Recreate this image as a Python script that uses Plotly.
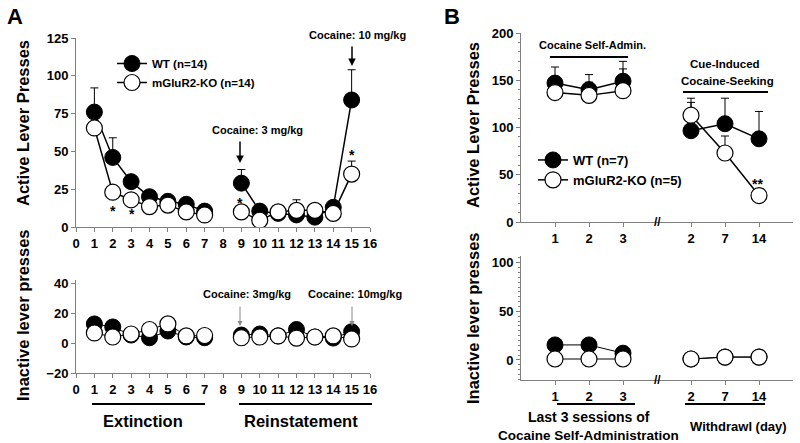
import plotly.graph_objects as go

# ---------------- data ----------------
sessions_A = [1, 2, 3, 4, 5, 6, 7, 8, 9, 10, 11, 12, 13, 14, 15]
wt_active = [76, 46, 30, 20, 17, 15, 10.5, None, 29, 10.5, 9, 8, 6.5, 13, 84]
ko_active = [65.5, 23, 18, 13.5, 14.5, 10, 8, None, 10, 4.5, 10, 11, 11, 9, 35]
wt_active_err = [16, 13, 0, 0, 0, 0, 0, 0, 9, 0, 0, 0, 0, 0, 20]
ko_active_err = [0, 0, 0, 0, 0, 0, 0, 0, 0, 0, 3, 7, 0, 0, 8.6]
wt_inactive = [12.7, 10.7, 5.3, 3.5, 8, 4, 3.5, None, 5.3, 6, 4.7, 9, 4, 3.3, 7.5]
ko_inactive = [6.7, 4, 6, 9, 12.7, 4.7, 5, None, 3.5, 4, 4.7, 3.3, 4, 4.7, 2.7]
wt_inactive_err = [3.5, 0, 0, 0, 0, 0, 0, 0, 0, 0, 0, 0, 0, 0, 0]
ticks_A = list(range(0, 17))

pos_B = [1, 2, 3, None, 5, 6, 7]
tickpos_B = [1, 2, 3, 5, 6, 7]
ticklabels_B = ["1", "2", "3", "2", "7", "14"]
wt_b_active = [147, 140, 149, None, 96.6, 104, 88]
ko_b_active = [137, 134, 139, None, 113, 73, 28]
wt_b_err = [17, 16, 21, 0, 30, 27, 29]
ko_b_err = [0, 14, 23, 0, 18, 18, 0]
wt_b_inactive = [15.5, 15.5, 7, None, 1, 3, 3]
ko_b_inactive = [1, 1, 1, None, 1, 3, 3]

W, H = 800, 443
FONT = "Liberation Sans, Arial, sans-serif"
AXC = "#808080"


def px(x):
    return x / W


def py(y):
    return 1 - y / H


fig = go.Figure()


def add_pair(xs, wt, ko, wt_err, ko_err, xa, ya, legend=None, wt_name="", ko_name="", lw=1.5):
    show = legend is not None
    fig.add_trace(go.Scatter(
        x=xs, y=wt, mode="lines+markers", name=wt_name, showlegend=show,
        legend=legend if show else None,
        line=dict(color="black", width=lw),
        marker=dict(size=16, color="black", line=dict(color="black", width=1)),
        error_y=dict(type="data", array=wt_err, arrayminus=[0] * len(xs), symmetric=False,
                     color="black", thickness=1, width=4) if wt_err is not None else None,
        xaxis=xa, yaxis=ya))
    fig.add_trace(go.Scatter(
        x=xs, y=ko, mode="lines+markers", name=ko_name, showlegend=show,
        legend=legend if show else None,
        line=dict(color="black", width=lw),
        marker=dict(size=16, color="white", line=dict(color="black", width=1.2)),
        error_y=dict(type="data", array=ko_err, arrayminus=[0] * len(xs), symmetric=False,
                     color="black", thickness=1, width=4) if ko_err is not None else None,
        xaxis=xa, yaxis=ya))


add_pair(sessions_A, wt_active, ko_active, wt_active_err, ko_active_err, "x", "y",
         legend="legend", wt_name="WT (n=14)", ko_name="mGluR2-KO (n=14)")
add_pair(sessions_A, wt_inactive, ko_inactive, wt_inactive_err, None, "x2", "y2", lw=1)
add_pair(pos_B, wt_b_active, ko_b_active, wt_b_err, ko_b_err, "x3", "y3",
         legend="legend2", wt_name="WT (n=7)", ko_name="mGluR2-KO (n=5)")
add_pair(pos_B, wt_b_inactive, ko_b_inactive, None, None, "x4", "y4", lw=1)

tickfont = dict(family=FONT, size=13, color="black", weight="bold")
common_ax = dict(showline=True, linecolor=AXC, linewidth=1, ticks="outside", ticklen=4,
                 tickcolor=AXC, showgrid=False, zeroline=False, tickfont=tickfont,
                 automargin=False)

fig.update_layout(
    width=W, height=H, margin=dict(l=0, r=0, t=0, b=0, autoexpand=False),
    paper_bgcolor="white", plot_bgcolor="white",
    font=dict(family=FONT, color="black"),
    xaxis=dict(domain=[px(76), px(370)], range=[0, 16], tickvals=ticks_A, anchor="y", **common_ax),
    yaxis=dict(domain=[py(227), py(38)], range=[0, 125], tickvals=[0, 25, 50, 75, 100, 125],
               anchor="x", **common_ax),
    xaxis2=dict(domain=[px(76), px(370)], range=[0, 16], tickvals=ticks_A, anchor="y2", **common_ax),
    yaxis2=dict(domain=[py(373), py(280)], range=[-20, 42], tickvals=[-20, 0, 20, 40],
                anchor="x2", **common_ax),
    xaxis3=dict(domain=[px(521), px(793)], range=[0, 8], tickvals=tickpos_B, ticktext=ticklabels_B,
                anchor="y3", **common_ax),
    yaxis3=dict(domain=[py(222), py(33)], range=[0, 200], tickvals=[0, 50, 100, 150, 200],
                anchor="x3", minor=dict(ticks="outside", ticklen=2, dtick=10, tickcolor=AXC),
                **common_ax),
    xaxis4=dict(domain=[px(521), px(793)], range=[0, 8], tickvals=tickpos_B, ticktext=ticklabels_B,
                anchor="y4", **common_ax),
    yaxis4=dict(domain=[py(380), py(256)], range=[-20.6, 107], tickvals=[0, 50, 100],
                anchor="x4", minor=dict(ticks="outside", ticklen=2, dtick=5, tickcolor=AXC),
                **common_ax),
    legend=dict(x=px(112), y=py(49), xanchor="left", yanchor="top",
                bgcolor="rgba(0,0,0,0)", font=dict(family=FONT, size=11.5, weight="bold"),
                itemsizing="trace", tracegroupgap=2),
    legend2=dict(x=px(533), y=py(145), xanchor="left", yanchor="top",
                 bgcolor="rgba(0,0,0,0)", font=dict(family=FONT, size=13, weight="bold"),
                 itemsizing="trace", tracegroupgap=2),
)

ann = []


def text(x, y, t, size=12, color="black", angle=0):
    ann.append(dict(x=px(x), y=py(y), xref="paper", yref="paper", text=t, showarrow=False,
                    font=dict(family=FONT, size=size, color=color, weight="bold"),
                    textangle=angle, xanchor="center", yanchor="middle"))


def arrow(x, ytip, ytail, color="black", width=1.5, head=2):
    ann.append(dict(x=px(x), y=py(ytip), xref="paper", yref="paper", text="",
                    showarrow=True, ax=0, ay=-(ytip - ytail), arrowhead=head, arrowsize=1,
                    arrowwidth=width, arrowcolor=color))


text(15, 17, "A", size=22)
text(452, 17, "B", size=22)
text(23, 123, "Active Lever Presses", size=16.5, angle=-90)
text(23, 315, "Inactive lever presses", size=16.5, angle=-90)
text(473, 125, "Active Lever Presses", size=16.5, angle=-90)
text(473, 318, "Inactive lever presses", size=16.5, angle=-90)

text(257, 130, "Cocaine: 3 mg/kg", size=11)
arrow(240, 163, 140)
text(357, 35, "Cocaine: 10 mg/kg", size=11)
arrow(352, 66, 45)
text(247, 294, "Cocaine: 3mg/kg", size=11)
arrow(240, 326, 305, color="#888", width=1, head=2)
text(355, 294, "Cocaine: 10mg/kg", size=11)
arrow(352, 326, 305, color="#888", width=1, head=2)

# significance marks
text(113, 211, "*", size=14)
text(132, 214, "*", size=14)
text(240, 203, "*", size=14)
text(352, 155, "*", size=14)
text(757, 184, "**", size=14)

text(143, 421, "Extinction", size=16.5)
text(301, 421, "Reinstatement", size=16.5)
text(592, 45, "Cocaine Self-Admin.", size=11)
text(725, 64, "Cue-Induced", size=11.5)
text(727, 81, "Cocaine-Seeking", size=11.5)
text(589, 417, "Last 3 sessions of", size=14)
text(588, 435, "Cocaine Self-Administration", size=13.5)
text(738, 426, "Withdrawl (day)", size=13)

# axis breaks
text(657, 222, "//", size=12)
text(657, 380, "//", size=12)

fig.update_layout(annotations=ann)

shapes = []
for (x0, x1, y) in [(92, 205, 404), (239, 372, 404), (550, 628, 57), (683, 768, 92),
                    (557, 635, 404), (685, 765, 404)]:
    shapes.append(dict(type="line", xref="paper", yref="paper", x0=px(x0), x1=px(x1),
                       y0=py(y), y1=py(y), line=dict(color="black", width=2)))
fig.update_layout(shapes=shapes)

fig.write_html("out.html", config={"displayModeBar": False},
               post_script="document.body.style.margin='0';document.body.style.overflow='hidden';")
